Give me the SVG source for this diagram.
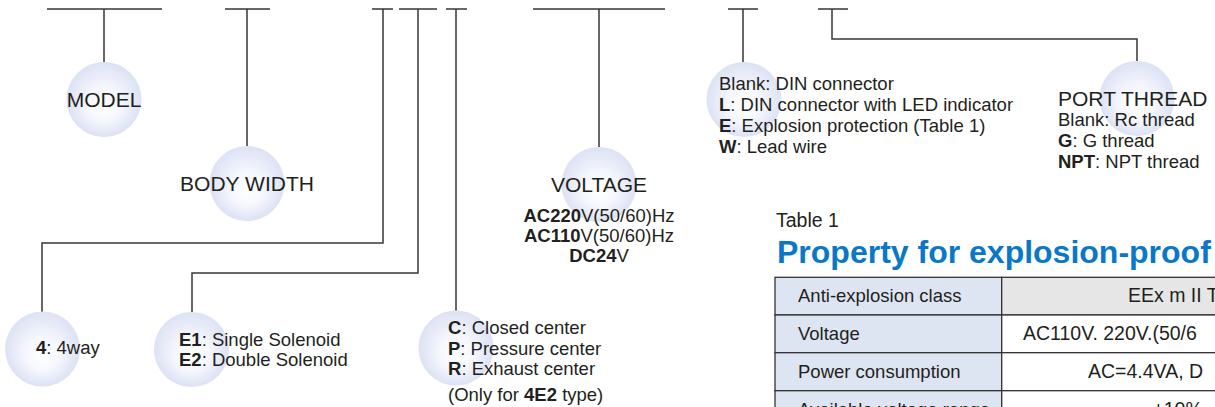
<svg xmlns="http://www.w3.org/2000/svg" width="1215" height="407" viewBox="0 0 1215 407">
<defs>
<radialGradient id="ball" cx="50%" cy="50%" r="50%" fx="50%" fy="62%">
<stop offset="0" stop-color="#ffffff"/>
<stop offset="0.45" stop-color="#f5f7fd"/>
<stop offset="1" stop-color="#dce2f4"/>
</radialGradient>
<style>
.ln{fill:none;stroke:#3b3536;stroke-width:1.5}
.ball{fill:url(#ball)}
.t{font-family:"Liberation Sans",Arial,sans-serif;fill:#231f20}
.lbl{font-size:21px}
.s{font-size:18.5px}
.r{font-size:19.5px}
.b{font-weight:bold}
.cell{stroke:#333;stroke-width:1.3}
</style>
</defs>
<rect width="1215" height="407" fill="#ffffff"/>

<g id="connectors">
<path class="ln" d="M47 9H162M104 9V62"/>
<path class="ln" d="M225 9H270M247 9V146"/>
<path class="ln" d="M372 9H393M383 9V243H42V312"/>
<path class="ln" d="M399 9H437M418 9V273H192V312"/>
<path class="ln" d="M446 9H467M456 9V311"/>
<path class="ln" d="M533 9H665M599 9V147"/>
<path class="ln" d="M728 9H758M743 9V62"/>
<path class="ln" d="M818 9H848M832 9V39H1137V61"/>
</g>

<g id="model">
<circle class="ball" cx="104" cy="99.5" r="37.5"/>
<text class="t lbl" x="104" y="106.5" text-anchor="middle">MODEL</text>
</g>

<g id="body-width">
<circle class="ball" cx="247" cy="183.5" r="37.5"/>
<text class="t lbl" x="247" y="190.5" text-anchor="middle">BODY WIDTH</text>
</g>

<g id="way">
<circle class="ball" cx="42.5" cy="349" r="37.5"/>
<text class="t s" x="36" y="354"><tspan class="b">4</tspan>: 4way</text>
</g>

<g id="solenoid">
<circle class="ball" cx="191.5" cy="349.5" r="37.5"/>
<text class="t s" x="179" y="345.5"><tspan class="b">E1</tspan>: Single Solenoid</text>
<text class="t s" x="179" y="366"><tspan class="b">E2</tspan>: Double Solenoid</text>
</g>

<g id="center">
<circle class="ball" cx="456" cy="348" r="37.5"/>
<text class="t s" x="448" y="334"><tspan class="b">C</tspan>: Closed center</text>
<text class="t s" x="448" y="354.5"><tspan class="b">P</tspan>: Pressure center</text>
<text class="t s" x="448" y="375"><tspan class="b">R</tspan>: Exhaust center</text>
<text class="t s" x="448" y="401"><tspan>(Only for </tspan><tspan class="b">4E2</tspan><tspan> type)</tspan></text>
</g>

<g id="voltage">
<circle class="ball" cx="599" cy="184.5" r="37.5"/>
<text class="t lbl" x="599" y="191.5" text-anchor="middle">VOLTAGE</text>
<text class="t s" x="599" y="222" text-anchor="middle"><tspan class="b">AC220</tspan>V(50/60)Hz</text>
<text class="t s" x="599" y="242" text-anchor="middle"><tspan class="b">AC110</tspan>V(50/60)Hz</text>
<text class="t s" x="599" y="262" text-anchor="middle"><tspan class="b">DC24</tspan>V</text>
</g>

<g id="connector-type">
<circle class="ball" cx="744" cy="99.5" r="37.5"/>
<text class="t s" x="719" y="90">Blank: DIN connector</text>
<text class="t s" x="719" y="111"><tspan class="b">L</tspan>: DIN connector with LED indicator</text>
<text class="t s" x="719" y="132"><tspan class="b">E</tspan>: Explosion protection (Table 1)</text>
<text class="t s" x="719" y="153"><tspan class="b">W</tspan>: Lead wire</text>
</g>

<g id="port-thread">
<circle class="ball" cx="1137" cy="98.5" r="37.5"/>
<text class="t lbl" x="1058" y="106">PORT THREAD</text>
<text class="t s" x="1058" y="126">Blank: Rc thread</text>
<text class="t s" x="1058" y="147"><tspan class="b">G</tspan>: G thread</text>
<text class="t s" x="1058" y="168"><tspan class="b">NPT</tspan>: NPT thread</text>
</g>

<g id="table1">
<text class="t" x="776" y="227" font-size="19.5">Table 1</text>
<text x="777" y="263" font-family="'Liberation Sans',Arial,sans-serif" font-size="32" font-weight="bold" fill="#0a78c6">Property for explosion-proof</text>
<rect class="cell" x="775" y="277.3" width="226.7" height="37.7" fill="#dde5f3"/>
<rect class="cell" x="1001.7" y="277.3" width="230" height="37.7" fill="#e6e6e6"/>
<rect class="cell" x="775" y="315" width="226.7" height="37.7" fill="#dde5f3"/>
<rect class="cell" x="1001.7" y="315" width="230" height="37.7" fill="#ffffff"/>
<rect class="cell" x="775" y="352.7" width="226.7" height="38" fill="#dde5f3"/>
<rect class="cell" x="1001.7" y="352.7" width="230" height="38" fill="#ffffff"/>
<rect class="cell" x="775" y="390.7" width="226.7" height="38" fill="#dde5f3"/>
<rect class="cell" x="1001.7" y="390.7" width="230" height="38" fill="#ffffff"/>
<text class="t s" x="798" y="302">Anti-explosion class</text>
<text class="t s" x="798" y="340">Voltage</text>
<text class="t s" x="798" y="378">Power consumption</text>
<text class="t s" x="798" y="416">Available voltage range</text>
<text class="t r" x="1128" y="302">EEx m II T</text>
<text class="t r" x="1023" y="340">AC110V. 220V.(50/6</text>
<text class="t r" x="1088" y="378">AC=4.4VA, D</text>
<text class="t r" x="1153" y="416">±10%</text>
</g>
</svg>
